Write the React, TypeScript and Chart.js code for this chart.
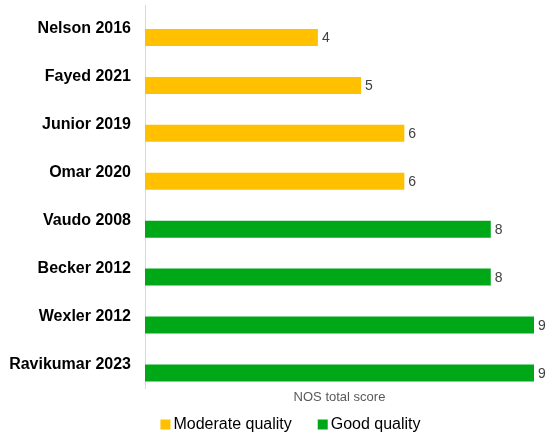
import React, { useEffect, useRef } from 'react';
import { Chart, registerables } from 'chart.js';

Chart.register(...registerables);

const studies = [
  'Nelson 2016',
  'Fayed 2021',
  'Junior 2019',
  'Omar 2020',
  'Vaudo 2008',
  'Becker 2012',
  'Wexler 2012',
  'Ravikumar 2023',
];
const moderateScores: (number | null)[] = [4, 5, 6, 6, null, null, null, null];
const goodScores: (number | null)[] = [null, null, null, null, 8, 8, 9, 9];
const seriesLabels = ['Moderate quality', 'Good quality'];
const seriesColors = ['#FFC000', '#00A818'];
const axisTitle = 'NOS total score';
const scoreMin = 0;
const scoreMax = 9;

const FONT = "'Liberation Sans', Arial, Helvetica, sans-serif";

const valueLabelPlugin = {
  id: 'valueLabels',
  afterDatasetsDraw(chart: any) {
    const ctx = chart.ctx;
    ctx.save();
    ctx.font = `14px ${FONT}`;
    ctx.fillStyle = '#404040';
    ctx.textAlign = 'left';
    ctx.textBaseline = 'middle';
    chart.data.datasets.forEach((ds: any, i: number) => {
      if (!ds.label) return;
      const meta = chart.getDatasetMeta(i);
      meta.data.forEach((el: any, j: number) => {
        const v = ds.data[j];
        if (v === null || v === undefined) return;
        ctx.fillText(String(v), el.x + 4, el.y + 1);
      });
    });
    ctx.restore();
  },
};

const customLegendPlugin = {
  id: 'customLegend',
  afterDraw(chart: any) {
    const ctx = chart.ctx;
    const items = chart.data.datasets.filter((d: any) => d.label);
    ctx.save();
    ctx.font = `16px ${FONT}`;
    const box = 10;
    const boxGap = 3;
    const itemGap = 26;
    const widths = items.map((d: any) => box + boxGap + ctx.measureText(d.label).width);
    const total = widths.reduce((a: number, b: number) => a + b, 0) + itemGap * (items.length - 1);
    const centerX = 290.5;
    const centerY = 424.5;
    let x = centerX - total / 2;
    items.forEach((d: any, i: number) => {
      ctx.fillStyle = d.backgroundColor;
      ctx.fillRect(x, centerY - box / 2, box, box);
      ctx.fillStyle = '#000000';
      ctx.textAlign = 'left';
      ctx.textBaseline = 'middle';
      ctx.fillText(d.label, x + box + boxGap, centerY);
      x += widths[i] + itemGap;
    });
    ctx.restore();
  },
};

export default function App() {
  const canvasRef = useRef<HTMLCanvasElement | null>(null);

  useEffect(() => {
    document.body.style.margin = '0';
    document.body.style.overflow = 'hidden';
    const canvas = canvasRef.current;
    if (!canvas) return;
    const chart = new Chart(canvas, {
      type: 'bar',
      data: {
        labels: studies,
        datasets: [
          {
            label: '',
            data: studies.map(() => null),
            stack: 'spacer',
            backgroundColor: 'rgba(0,0,0,0)',
          },
          {
            label: seriesLabels[0],
            data: moderateScores,
            stack: 'quality',
            backgroundColor: seriesColors[0],
          },
          {
            label: seriesLabels[1],
            data: goodScores,
            stack: 'quality',
            backgroundColor: seriesColors[1],
          },
        ],
      },
      options: {
        indexAxis: 'y',
        responsive: false,
        animation: false,
        devicePixelRatio: 1,
        layout: { padding: { top: 5, right: 16, bottom: 32, left: 5 } },
        datasets: {
          bar: { categoryPercentage: 0.71, barPercentage: 1.0 },
        },
        font: { family: FONT },
        plugins: {
          legend: { display: false },
          tooltip: { enabled: false },
          title: { display: false },
        },
        scales: {
          x: {
            stacked: true,
            min: scoreMin,
            max: scoreMax,
            grid: { display: false, drawTicks: false },
            border: { display: false },
            ticks: { display: false },
            title: {
              display: true,
              text: axisTitle,
              color: '#595959',
              font: { family: FONT, size: 13 },
              padding: { top: 1, bottom: 0 },
            },
          },
          y: {
            stacked: true,
            grid: { display: false, drawTicks: false },
            border: { display: true, color: '#D9D9D9', width: 1 },
            ticks: {
              color: '#000000',
              padding: 14,
              font: { family: FONT, size: 16, weight: 'bold' },
            },
            afterFit: (scale: any) => {
              scale.width = 140;
              scale.paddingTop = 0;
              scale.paddingBottom = 0;
            },
          },
        },
      },
      plugins: [valueLabelPlugin, customLegendPlugin],
    } as any);
    return () => chart.destroy();
  }, []);

  return (
    <div style={{ width: 550, height: 437, background: '#ffffff' }}>
      <canvas ref={canvasRef} width={550} height={437} style={{ display: 'block' }} />
    </div>
  );
}
